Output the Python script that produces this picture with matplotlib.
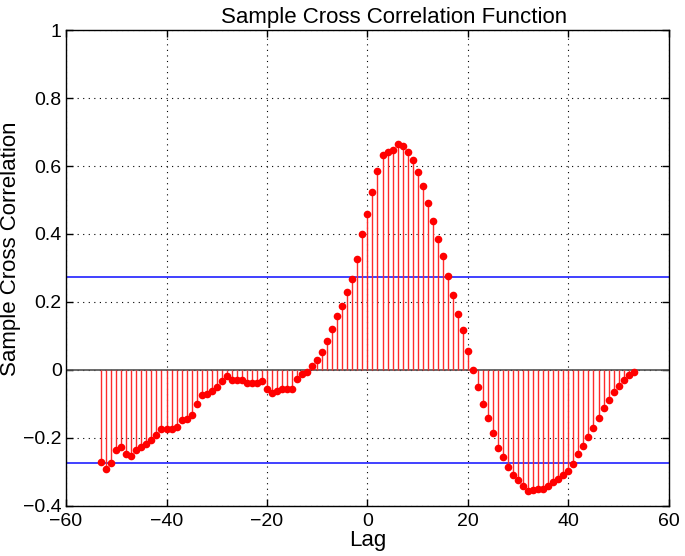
import numpy as np
import matplotlib
matplotlib.use("Agg")
import matplotlib.pyplot as plt

# lags -53..53 and the sample cross correlation
lags = np.arange(-53, 54)
xcf = [
    -0.271, -0.292, -0.275, -0.235, -0.227, -0.247, -0.252, -0.235, -0.227, -0.217,
    -0.207, -0.190, -0.173, -0.173, -0.173, -0.168, -0.148, -0.145, -0.131, -0.099,
    -0.075, -0.070, -0.062, -0.050, -0.032, -0.018, -0.029, -0.029, -0.029, -0.037,
    -0.037, -0.037, -0.032, -0.055, -0.067, -0.062, -0.055, -0.055, -0.055, -0.026,
    -0.013, -0.005, 0.011, 0.030, 0.052, 0.085, 0.121, 0.158, 0.188, 0.228,
    0.269, 0.327, 0.400, 0.458, 0.524, 0.586, 0.632, 0.640, 0.647, 0.664,
    0.660, 0.640, 0.619, 0.581, 0.541, 0.492, 0.439, 0.384, 0.335, 0.277,
    0.220, 0.166, 0.117, 0.056, -0.001, -0.050, -0.099, -0.141, -0.186, -0.230,
    -0.256, -0.284, -0.309, -0.325, -0.342, -0.355, -0.354, -0.350, -0.350, -0.341,
    -0.329, -0.321, -0.309, -0.296, -0.276, -0.248, -0.223, -0.198, -0.170, -0.141,
    -0.111, -0.088, -0.066, -0.046, -0.029, -0.014, -0.005,
]
bound = 0.2747  # confidence bounds
xticks = [-60, -40, -20, 0, 20, 40, 60]
yticks = [-0.4, -0.2, 0, 0.2, 0.4, 0.6, 0.8, 1]
ytick_labels = ["\u22120.4", "\u22120.2", "0", "0.2", "0.4", "0.6", "0.8", "1"]

plt.rcParams["font.family"] = ["Liberation Sans", "DejaVu Sans"]

fig = plt.figure(figsize=(6.85, 5.56), dpi=100)
ax = fig.add_axes([0.0964, 0.090, 0.880, 0.856])

ax.set_xlim(-60, 60)
ax.set_ylim(-0.4, 1)
ax.set_xticks(xticks)
ax.set_yticks(yticks)
ax.set_yticklabels(ytick_labels)

ax.grid(True, color="black", linestyle=(0, (1, 4)), linewidth=0.8)
ax.set_axisbelow(True)

# stems
ax.vlines(lags, 0, xcf, colors="#ff2a2a", linewidth=1.0, zorder=3)
ax.plot(lags, xcf, "o", color="red", markersize=5.5, markeredgewidth=0, zorder=4)

ax.axhline(0, color="#505050", linewidth=1.2, zorder=2)
ax.axhline(bound, color="#2020ff", linewidth=1.2, zorder=2)
ax.axhline(-bound, color="#2020ff", linewidth=1.2, zorder=2)

ax.tick_params(direction="in", length=5, width=1, top=True, right=True,
               labelsize=14)
ax.tick_params(axis="x", pad=5)
ax.tick_params(axis="y", pad=3)
for s in ax.spines.values():
    s.set_linewidth(1.0)

ax.set_title("Sample Cross Correlation Function", fontsize=16, pad=5, x=0.544)
ax.set_xlabel("Lag", fontsize=16, labelpad=0)
ax.set_ylabel("Sample Cross Correlation", fontsize=16)
ax.yaxis.set_label_coords(-0.075, 0.54)

fig.savefig("out.png", dpi=100)
